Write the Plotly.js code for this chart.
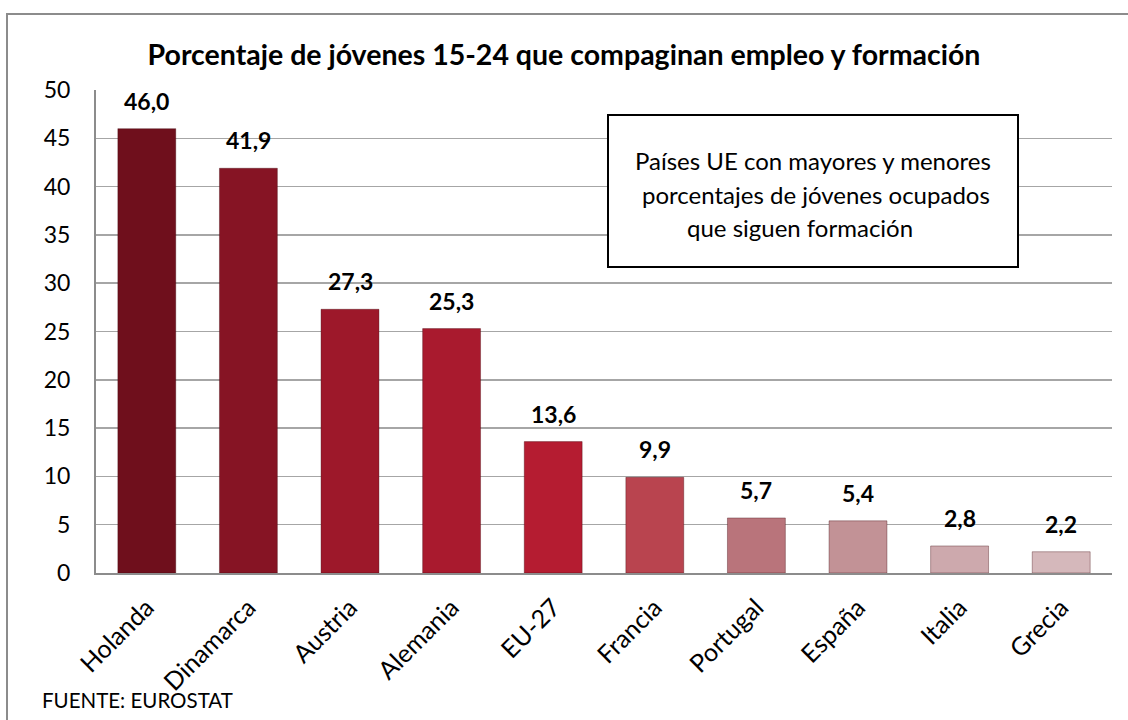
<!DOCTYPE html>
<html>
<head>
<meta charset="utf-8">
<script src="https://cdn.plot.ly/plotly-3.0.1.min.js"></script>
<style>
  html, body { margin: 0; padding: 0; background: #fff; }
  #chart { width: 1128px; height: 720px; }
</style>
</head>
<body>
<div id="chart"></div>
<script>
const countries = ["Holanda", "Dinamarca", "Austria", "Alemania", "EU-27", "Francia", "Portugal", "España", "Italia", "Grecia"];
const percentages = [46.0, 41.9, 27.3, 25.3, 13.6, 9.9, 5.7, 5.4, 2.8, 2.2];
const barColors = ["#6f0f1c", "#861424", "#9d182a", "#a91a2e", "#b51c31", "#b9444f", "#b9747b", "#c29296", "#cda9ad", "#d5b8bb"];
const yTicks = [0, 5, 10, 15, 20, 25, 30, 35, 40, 45, 50];

const W = 1128, H = 720;
const margin = {l: 96, r: 16, t: 90, b: 147};
const FONT = "Lato, 'Open Sans', sans-serif";

function fmt(v) { return v.toFixed(1).replace('.', ','); }

const trace = {
  type: 'bar',
  x: countries,
  y: percentages,
  marker: { color: barColors, line: { color: 'rgba(60,0,10,0.35)', width: 1 } },
  hoverinfo: 'x+y'
};

const pw = W - margin.l - margin.r, ph = H - margin.t - margin.b;
const px2x = p => (p - margin.l) / pw;
const py2y = p => (H - margin.b - p) / ph;

const valueLabels = countries.map((c, i) => ({
  xref: 'x', yref: 'y', x: c, y: percentages[i],
  text: fmt(percentages[i]), showarrow: false,
  xanchor: 'center', yanchor: 'bottom', yshift: 12,
  font: { family: FONT, size: 23, color: '#000', weight: 'bold' }
}));

const layout = {
  width: W, height: H,
  margin: margin,
  paper_bgcolor: '#fff',
  plot_bgcolor: '#fff',
  separators: ',.',
  showlegend: false,
  bargap: 0.43,
  font: { family: FONT, color: '#000' },
  title: {
    text: 'Porcentaje de jóvenes 15-24 que compaginan empleo y formación',
    font: { family: FONT, size: 28.5, color: '#000', weight: 'bold' },
    x: 0.5, xref: 'container', xanchor: 'center',
    y: 1 - 55 / H, yref: 'container', yanchor: 'middle'
  },
  xaxis: {
    type: 'category',
    tickangle: -45,
    tickfont: { family: FONT, size: 25, color: '#000' },
    showline: true, linecolor: '#8c8c8c', linewidth: 2,
    ticks: '', showgrid: false,
    ticklabelstandoff: 8,
    range: [-0.5, 9.5]
  },
  yaxis: {
    range: [0, 50],
    tickvals: yTicks,
    ticktext: yTicks.map(String),
    tickfont: { family: FONT, size: 23, color: '#000' },
    showline: true, linecolor: '#8c8c8c', linewidth: 2,
    gridcolor: '#a6a6a6', gridwidth: 1.5,
    zeroline: false,
    ticks: '', ticklen: 0,
    ticklabelstandoff: 19,
    fixedrange: true
  },
  shapes: [
    { type: 'rect', xref: 'paper', yref: 'paper', layer: 'below',
      x0: px2x(7), x1: px2x(1140), y0: py2y(740), y1: py2y(14),
      line: { color: '#8c8c8c', width: 2 }, fillcolor: 'rgba(0,0,0,0)' },
    { type: 'rect', xref: 'paper', yref: 'paper', layer: 'above',
      x0: px2x(608), x1: px2x(1018), y0: py2y(267), y1: py2y(115),
      line: { color: '#000', width: 2 }, fillcolor: '#fff' }
  ],
  annotations: valueLabels.concat([
    { xref: 'paper', yref: 'paper', x: px2x(813), y: py2y(160), text: 'Países UE con mayores y menores',
      showarrow: false, xanchor: 'center', yanchor: 'middle', font: { family: FONT, size: 24, color: '#000' } },
    { xref: 'paper', yref: 'paper', x: px2x(816), y: py2y(194), text: 'porcentajes de jóvenes ocupados',
      showarrow: false, xanchor: 'center', yanchor: 'middle', font: { family: FONT, size: 24, color: '#000' } },
    { xref: 'paper', yref: 'paper', x: px2x(800), y: py2y(227), text: 'que siguen formación',
      showarrow: false, xanchor: 'center', yanchor: 'middle', font: { family: FONT, size: 24, color: '#000' } },
    { xref: 'paper', yref: 'paper', x: px2x(40), y: py2y(700), text: 'FUENTE: EUROSTAT',
      showarrow: false, xanchor: 'left', yanchor: 'middle', font: { family: FONT, size: 20.5, color: '#000' } }
  ])
};

Plotly.newPlot('chart', [trace], layout, { displayModeBar: false, staticPlot: true });
</script>
</body>
</html>
